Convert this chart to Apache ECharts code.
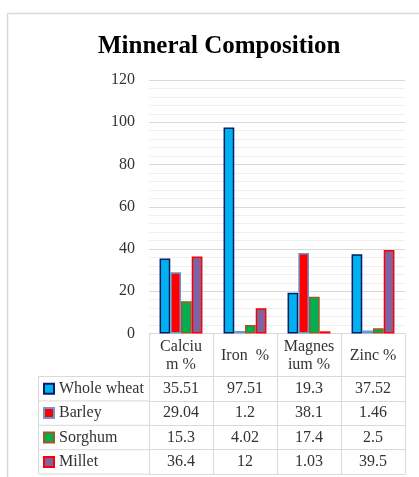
<!DOCTYPE html>
<html>
<head>
<meta charset="utf-8">
<script src="https://cdn.jsdelivr.net/npm/echarts@6/dist/echarts.min.js"></script>
<style>
html,body{margin:0;padding:0;background:#fff;}
#chart{width:419px;height:477px;}
</style>
</head>
<body>
<div id="chart"></div>
<script>
// ---- data ----
var categories = ["Calciu\nm %", "Iron  %", "Magnes\nium %", "Zinc %"];
var seriesNames = ["Whole wheat", "Barley", "Sorghum", "Millet"];
var wholeWheat = [35.51, 97.51, 19.3, 37.52];
var barley = [29.04, 1.2, 38.1, 1.46];
var sorghum = [15.3, 4.02, 17.4, 2.5];
var millet = [36.4, 12, 1.03, 39.5];
var yMin = 0, yMax = 120, yStep = 20;

// ---- layout / style ----
var FONT = "'Liberation Serif','Times New Roman',serif";
var TXT = '#333333';
var GRID_L = 149, GRID_R = 14, GRID_T = 80, GRID_B = 143.5;
var HEAD_H = 43, ROW_H = 24.4;
var LEG_L = 38.5;
var LINE = '#d9d9d9';
var styles = [
  {color: '#00B0F0', borderColor: '#002060'},
  {color: '#FF0000', borderColor: '#6A98D2'},
  {color: '#00B050', borderColor: '#9C5B24'},
  {color: '#8064A2', borderColor: '#FF0000'}
];
var allData = [wholeWheat, barley, sorghum, millet];

var chart = echarts.init(document.getElementById('chart'));

var xAxes = [{
  type: 'category', data: categories, position: 'bottom', gridIndex: 0, offset: 0,
  axisLine: {show: true, lineStyle: {color: LINE, width: 1}},
  axisTick: {show: true, length: HEAD_H, interval: 0, lineStyle: {color: LINE}},
  axisLabel: {interval: 0, margin: HEAD_H / 2 + 0.5, verticalAlign: 'middle', color: TXT,
    fontFamily: FONT, fontSize: 16, lineHeight: 18}
}];
allData.forEach(function (arr, i) {
  xAxes.push({
    type: 'category', data: arr.map(function (v) { return String(v); }),
    position: 'bottom', gridIndex: 0, offset: HEAD_H + i * ROW_H,
    axisLine: {show: true, lineStyle: {color: LINE, width: 1}},
    axisTick: {show: true, length: ROW_H, interval: 0, lineStyle: {color: LINE}},
    axisLabel: {interval: 0, margin: ROW_H / 2, verticalAlign: 'middle', color: TXT,
      fontFamily: FONT, fontSize: 16}
  });
});
xAxes.push({
  type: 'category', data: categories.map(function () { return ''; }),
  position: 'bottom', gridIndex: 0, offset: HEAD_H + 4 * ROW_H,
  axisLine: {show: true, lineStyle: {color: LINE, width: 1}},
  axisTick: {show: false}, axisLabel: {show: false}
});

var tableTop = 477 - GRID_B + HEAD_H;
var graphics = [{
  type: 'rect', silent: true,
  shape: {x: 7.5, y: 13.5, width: 430, height: 480},
  style: {fill: 'none', stroke: LINE, lineWidth: 1.5}
}, {
  type: 'line', silent: true,
  shape: {x1: LEG_L, y1: tableTop, x2: LEG_L, y2: tableTop + 4 * ROW_H},
  style: {stroke: LINE, lineWidth: 1}
}];
for (var k = 0; k <= 4; k++) {
  graphics.push({
    type: 'line', silent: true,
    shape: {x1: LEG_L, y1: tableTop + k * ROW_H, x2: GRID_L, y2: tableTop + k * ROW_H},
    style: {stroke: LINE, lineWidth: 1}
  });
}

chart.setOption({
  backgroundColor: '#fff',
  animation: false,
  title: {
    text: 'Minneral Composition', left: 93, top: 29,
    textStyle: {fontFamily: FONT, fontSize: 25, fontWeight: 'bold', color: '#000'}
  },
  legend: {
    orient: 'vertical', left: 43, top: tableTop + ROW_H / 2 - 8,
    padding: 0,
    itemWidth: 10, itemHeight: 10, itemGap: ROW_H - 16,
    icon: 'rect',
    data: seriesNames,
    textStyle: {fontFamily: FONT, fontSize: 16, color: TXT, lineHeight: 16}
  },
  grid: {left: GRID_L, right: GRID_R, top: GRID_T, bottom: GRID_B, containLabel: false},
  xAxis: xAxes,
  yAxis: {
    type: 'value', min: yMin, max: yMax, interval: yStep,
    axisLine: {show: false}, axisTick: {show: false},
    axisLabel: {color: TXT, fontFamily: FONT, fontSize: 16, margin: 14},
    splitLine: {show: true, lineStyle: {color: LINE, width: 1}},
    minorTick: {show: false, splitNumber: 5},
    minorSplitLine: {show: true, lineStyle: {color: '#efefef', width: 1}}
  },
  graphic: graphics,
  series: allData.map(function (arr, i) {
    return {
      name: seriesNames[i], type: 'bar', xAxisIndex: 0, yAxisIndex: 0,
      data: arr, barGap: '0%', barCategoryGap: '33%',
      itemStyle: {color: styles[i].color, borderColor: styles[i].borderColor, borderWidth: 1.5}
    };
  })
});
</script>
</body>
</html>
